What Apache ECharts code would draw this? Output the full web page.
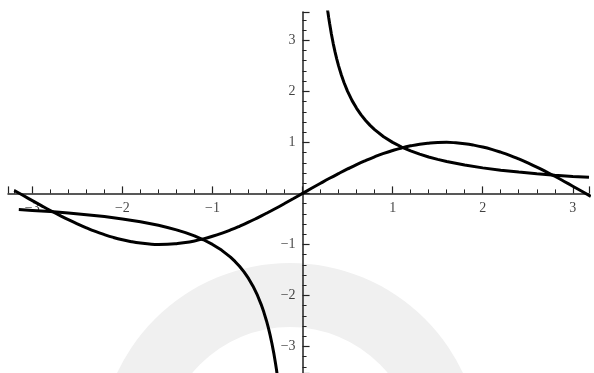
<!DOCTYPE html>
<html>
<head>
<meta charset="utf-8">
<script src="https://cdn.jsdelivr.net/npm/echarts@6/dist/echarts.min.js"></script>
<style>
  html, body { margin: 0; padding: 0; background: #fff; }
  #plot_chart { width: 594px; height: 373px; }
</style>
</head>
<body>
<div id="plot_chart"></div>
<script>
// values
var sinX = [-3.2, -3.1, -3.0, -2.9, -2.8, -2.7, -2.6, -2.5, -2.4, -2.3, -2.2, -2.1, -2.0, -1.9, -1.8, -1.7,
            -1.6, -1.5, -1.4, -1.3, -1.2, -1.1, -1.0, -0.9, -0.8, -0.7, -0.6, -0.5, -0.4, -0.3, -0.2, -0.1,
            0, 0.1, 0.2, 0.3, 0.4, 0.5, 0.6, 0.7, 0.8, 0.9, 1.0, 1.1, 1.2, 1.3, 1.4, 1.5,
            1.6, 1.7, 1.8, 1.9, 2.0, 2.1, 2.2, 2.3, 2.4, 2.5, 2.6, 2.7, 2.8, 2.9, 3.0, 3.1, 3.2];
var sinY = [0.058, -0.042, -0.141, -0.239, -0.335, -0.427, -0.516, -0.598, -0.675, -0.746, -0.808, -0.863, -0.909, -0.946, -0.974, -0.992,
            -1.000, -0.997, -0.985, -0.964, -0.932, -0.891, -0.841, -0.783, -0.717, -0.644, -0.565, -0.479, -0.389, -0.296, -0.199, -0.100,
            0, 0.100, 0.199, 0.296, 0.389, 0.479, 0.565, 0.644, 0.717, 0.783, 0.841, 0.891, 0.932, 0.964, 0.985, 0.997,
            1.000, 0.992, 0.974, 0.946, 0.909, 0.863, 0.808, 0.746, 0.675, 0.598, 0.516, 0.427, 0.335, 0.239, 0.141, 0.042, -0.058];

var recipLeftX = [-3.15, -3.0, -2.8, -2.6, -2.4, -2.2, -2.0, -1.8, -1.6, -1.5, -1.4, -1.3, -1.2, -1.1, -1.0, -0.9,
                  -0.8, -0.75, -0.7, -0.65, -0.6, -0.55, -0.5, -0.46, -0.43, -0.4, -0.38, -0.36, -0.34, -0.32, -0.3, -0.29, -0.28, -0.27];
var recipLeftY = [-0.317, -0.333, -0.357, -0.385, -0.417, -0.455, -0.500, -0.556, -0.625, -0.667, -0.714, -0.769, -0.833, -0.909, -1.000, -1.111,
                  -1.250, -1.333, -1.429, -1.538, -1.667, -1.818, -2.000, -2.174, -2.326, -2.500, -2.632, -2.778, -2.941, -3.125, -3.333, -3.448, -3.571, -3.704];

var recipRightX = [0.27, 0.28, 0.29, 0.3, 0.32, 0.34, 0.36, 0.38, 0.4, 0.43, 0.46, 0.5, 0.55, 0.6, 0.65, 0.7,
                   0.75, 0.8, 0.9, 1.0, 1.1, 1.2, 1.3, 1.4, 1.5, 1.6, 1.8, 2.0, 2.2, 2.4, 2.6, 2.8, 3.0, 3.18];
var recipRightY = [3.704, 3.571, 3.448, 3.333, 3.125, 2.941, 2.778, 2.632, 2.500, 2.326, 2.174, 2.000, 1.818, 1.667, 1.538, 1.429,
                   1.333, 1.250, 1.111, 1.000, 0.909, 0.833, 0.769, 0.714, 0.667, 0.625, 0.556, 0.500, 0.455, 0.417, 0.385, 0.357, 0.333, 0.314];

// tick labels shown next to the axes through the origin
var xTickLabels = [-3, -2, -1, 1, 2, 3];
var yTickLabels = [-3, -2, -1, 1, 2, 3];

var xRange = [-3.27, 3.18];
var yRange = [-3.52, 3.555];

function pairs(xs, ys) {
    return xs.map(function (x, i) { return [x, ys[i]]; });
}

function fmt(v) {
    return v < 0 ? '\u2212' + Math.abs(v) : String(v);
}

var plotChart = echarts.init(document.getElementById('plot_chart'));

var curveStyle = { color: '#000', width: 3 };
var labelFont = { color: '#111', fontFamily: 'Liberation Serif', fontSize: 14 };

var axisCommon = {
    type: 'value',
    axisLine: { onZero: true, lineStyle: { color: '#222', width: 1.5 } },
    axisTick: { inside: true, length: 7, lineStyle: { color: '#222', width: 1.2 } },
    minorTick: { show: true, splitNumber: 5, length: 4, lineStyle: { color: '#222', width: 1 } },
    axisLabel: { show: false },
    splitLine: { show: false }
};

var option = {
    animation: false,
    backgroundColor: '#fff',
    graphic: [{
        type: 'ring',
        z: -10,
        silent: true,
        shape: { cx: 290, cy: 454, r: 191, r0: 127 },
        style: { fill: '#f0f0f0' }
    }],
    grid: { left: 8, right: 5, top: 12, bottom: 0, outerBoundsMode: 'none', containLabel: false },
    xAxis: Object.assign({}, axisCommon, { min: xRange[0], max: xRange[1] }),
    yAxis: Object.assign({}, axisCommon, { min: yRange[0], max: yRange[1] }),
    series: [
        {
            name: 'x tick labels',
            type: 'scatter',
            z: 1,
            silent: true,
            symbolSize: 0,
            data: xTickLabels.map(function (v) { return [v, 0]; }),
            label: Object.assign({
                show: true,
                position: 'bottom',
                distance: 8,
                formatter: function (p) { return fmt(p.value[0]); }
            }, labelFont)
        },
        {
            name: 'y tick labels',
            type: 'scatter',
            z: 1,
            silent: true,
            symbolSize: 0,
            data: yTickLabels.map(function (v) { return [0, v]; }),
            label: Object.assign({
                show: true,
                position: 'left',
                distance: 7,
                formatter: function (p) { return fmt(p.value[1]); }
            }, labelFont)
        },
        {
            name: 'sin',
            type: 'line',
            z: 3,
            data: pairs(sinX, sinY),
            smooth: true,
            showSymbol: false,
            lineStyle: curveStyle
        },
        {
            name: 'recip left',
            type: 'line',
            z: 3,
            data: pairs(recipLeftX, recipLeftY),
            showSymbol: false,
            lineStyle: curveStyle
        },
        {
            name: 'recip right',
            type: 'line',
            z: 3,
            data: pairs(recipRightX, recipRightY),
            showSymbol: false,
            lineStyle: curveStyle
        }
    ]
};

plotChart.setOption(option);

window.addEventListener('resize', function () {
    if (plotChart != null && plotChart != undefined) {
        plotChart.resize();
    }
});
</script>
</body>
</html>
